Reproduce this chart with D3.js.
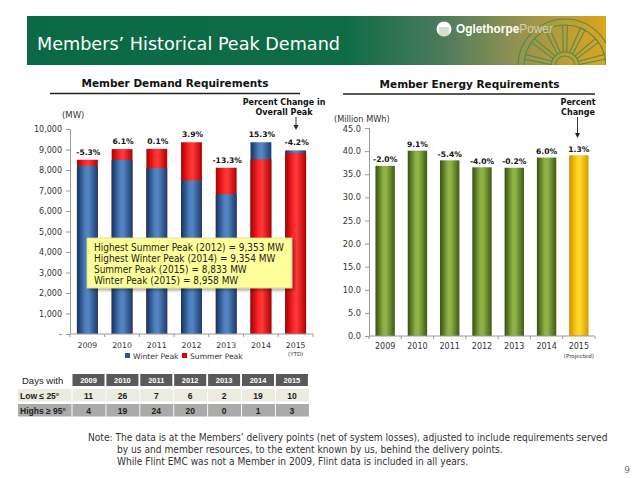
<!DOCTYPE html>
<html><head><meta charset="utf-8">
<script src="https://cdn.jsdelivr.net/npm/d3@7"></script>
<style>body{margin:0;background:#fff}svg{display:block}</style>
</head><body>
<script>
// ---------- DATA ----------
const years = ['2009','2010','2011','2012','2013','2014','2015'];
const winterPeak = [8210, 8500, 8090, 7490, 6820, 9354, 8958];
const summerPeak = [8500, 9020, 9030, 9353, 8110, 8520, 8833];
const peakChange = ['-5.3%','6.1%','0.1%','3.9%','-13.3%','15.3%','-4.2%'];
const demandTicks = [0,1000,2000,3000,4000,5000,6000,7000,8000,9000,10000];
const energy = [36.8, 40.1, 38.0, 36.5, 36.4, 38.6, 39.1];
const energyChange = ['-2.0%','9.1%','-5.4%','-4.0%','-0.2%','6.0%','1.3%'];
const energyTicks = [0,5,10,15,20,25,30,35,40,45];
const lowDays = [11,26,7,6,2,19,10];
const highDays = [4,19,24,20,0,1,3];
const rowLabels = ['Low ≤ 25°','Highs ≥ 95°'];
const annotation = ['Highest Summer Peak (2012) = 9,353 MW','Highest Winter Peak (2014) = 9,354 MW','Summer Peak (2015) = 8,833 MW','Winter Peak (2015) = 8,958 MW'];
const noteLines = ['Note: The data is at the Members’ delivery points (net of system losses), adjusted to include requirements served','by us and member resources, to the extent known by us, behind the delivery points.','While Flint EMC was not a Member in 2009, Flint data is included in all years.'];

// ---------- SETUP ----------
const W=637,H=478;
const svg=d3.select('body').append('svg').attr('width',W).attr('height',H);
const defs=svg.append('defs');
const F='DejaVu Sans, Verdana, sans-serif';
const FC='DejaVu Sans Condensed, DejaVu Sans, sans-serif';
function fit(sel,w){const n=sel.node();const l=n.getComputedTextLength();if(l>0){const fs=parseFloat(sel.attr('font-size'));sel.attr('font-size',fs*w/l);}return sel;}
function hgrad(id,stops){const g=defs.append('linearGradient').attr('id',id).attr('x1','0%').attr('x2','100%').attr('y1','0%').attr('y2','0%');stops.forEach(s=>g.append('stop').attr('offset',s[0]).attr('stop-color',s[1]));}
hgrad('gBlue',[['0%','#14335f'],['40%','#4d7fbf'],['55%','#5586c4'],['100%','#1a3c6e']]);
hgrad('gRed',[['0%','#a80000'],['40%','#ff2a2a'],['55%','#ff3a3a'],['100%','#b00000']]);
hgrad('gGreen',[['0%','#34500f'],['40%','#8cb043'],['55%','#90b448'],['100%','#3d5a14']]);
hgrad('gYellow',[['0%','#d08e00'],['40%','#ffd21a'],['55%','#ffd930'],['100%','#d49a00']]);
hgrad('gHead',[['0%','#0b6a45'],['55%','#0e6c47'],['72%','#4e7b5c'],['86%','#9a9450'],['100%','#dca51c']]);
const sh=defs.append('filter').attr('id','shadow').attr('x','-10%').attr('y','-10%').attr('width','130%').attr('height','140%');
sh.append('feDropShadow').attr('dx',2).attr('dy',2).attr('stdDeviation',1.5).attr('flood-color','#000').attr('flood-opacity',0.35);

// ---------- HEADER ----------
const hx0=27,hx1=606,hy0=16,hy1=65;
defs.append('clipPath').attr('id','hclip').append('rect').attr('x',hx0).attr('y',hy0).attr('width',hx1-hx0).attr('height',hy1-hy0);
svg.append('rect').attr('x',hx0).attr('y',hy0).attr('width',hx1-hx0).attr('height',hy1-hy0).attr('fill','url(#gHead)');
const wheel=svg.append('g').attr('clip-path','url(#hclip)').attr('fill','none').attr('stroke','#3c8a55').attr('stroke-width',1.1).attr('opacity',0.85);
const wc=[565,66];
[47,41,14,10].forEach(r=>wheel.append('circle').attr('cx',wc[0]).attr('cy',wc[1]).attr('r',r));
d3.range(0,7).forEach(i=>{const a=Math.PI*(1+ (i+0.5)/7);[-0.06,0.06].forEach(o=>{wheel.append('line').attr('x1',wc[0]+14*Math.cos(a+o*2)).attr('y1',wc[1]+14*Math.sin(a+o*2)).attr('x2',wc[0]+41*Math.cos(a+o)).attr('y2',wc[1]+41*Math.sin(a+o));});});
fit(svg.append('text').attr('x',37).attr('y',50).attr('fill','#fff').attr('font-family',F).attr('font-size',18).text('Members’ Historical Peak Demand'),303);
// logo
const lg=svg.append('g');
lg.append('circle').attr('cx',444).attr('cy',29).attr('r',7.5).attr('fill','#fff');
d3.range(0,5).forEach(i=>lg.append('line').attr('x1',440+i*2).attr('x2',440+i*2).attr('y1',27).attr('y2',37).attr('stroke','#7d8f6a').attr('stroke-width',0.6));
const lt=lg.append('text').attr('x',456).attr('y',33).attr('font-family','Liberation Sans, Arial, sans-serif').attr('font-size',11).attr('fill','#fff');
lt.append('tspan').attr('font-weight','bold').text('Oglethorpe');
lt.append('tspan').attr('fill','#e8e2c8').attr('fill-opacity',0.8).text('Power');
fit(lt,97);

// ---------- LEFT CHART ----------
const xL=d3.scaleBand().domain(years).range([70,313]).paddingInner(0.4).paddingOuter(0.2);
const yL=d3.scaleLinear().domain([0,10000]).range([334,129]);
fit(svg.append('text').attr('x',175).attr('y',87).attr('text-anchor','middle').attr('font-family',F).attr('font-weight','bold').attr('font-size',11).attr('fill','#111').text('Member Demand Requirements'),187);
svg.append('line').attr('x1',50).attr('x2',300).attr('y1',93.5).attr('y2',93.5).attr('stroke','#222').attr('stroke-width',1.5);
svg.append('text').attr('x',62).attr('y',118).attr('font-family',F).attr('font-size',8.5).attr('fill','#333').text('(MW)');
const pcl=svg.append('g').attr('font-family',F).attr('font-weight','bold').attr('font-size',8).attr('fill','#111').attr('text-anchor','middle');
pcl.append('text').attr('x',284).attr('y',105).text('Percent Change in');
pcl.append('text').attr('x',284).attr('y',114.5).text('Overall Peak');
function arrow(x,y0,y1){svg.append('line').attr('x1',x).attr('x2',x).attr('y1',y0).attr('y2',y1-3).attr('stroke','#333').attr('stroke-width',1);
 svg.append('path').attr('d',`M${x-2.5},${y1-5}L${x+2.5},${y1-5}L${x},${y1}Z`).attr('fill','#222');}
arrow(296,117,130);
// y axis
const yAxL=svg.append('g').attr('transform','translate(70,0)').call(d3.axisLeft(yL).tickValues(demandTicks).tickSize(4).tickFormat(d=>d===0?'-':d3.format(',')(d)));
yAxL.select('.domain').attr('stroke','#999');
yAxL.selectAll('.tick line').attr('stroke','#999');
yAxL.selectAll('text').attr('font-family',F).attr('font-size',8).attr('fill','#333').attr('dx',-1);
// bars (larger behind, smaller in front)
const lb=svg.append('g');
years.forEach((yr,i)=>{
  const w=winterPeak[i],s=summerPeak[i];
  const back = w>=s ? {v:w,f:'url(#gBlue)'} : {v:s,f:'url(#gRed)'};
  const front= w>=s ? {v:s,f:'url(#gRed)'} : {v:w,f:'url(#gBlue)'};
  [back,front].forEach(b=>lb.append('rect').attr('x',xL(yr)).attr('width',xL.bandwidth()).attr('y',yL(b.v)).attr('height',yL(0)-yL(b.v)).attr('fill',b.f));
  lb.append('text').attr('x',xL(yr)+xL.bandwidth()/2+1).attr('y',yL(Math.max(w,s))-5).attr('text-anchor','middle').attr('font-family',F).attr('font-weight','bold').attr('font-size',7.6).attr('fill','#111').text(peakChange[i]);
});
// x axis
const xAxL=svg.append('g').attr('transform','translate(0,334)');
xAxL.append('line').attr('x1',70).attr('x2',313).attr('stroke','#999');
years.forEach((yr,i)=>{const bx=xL(yr)-xL.step()*xL.paddingInner()/2;xAxL.append('line').attr('x1',bx).attr('x2',bx).attr('y1',0).attr('y2',3).attr('stroke','#999');
 xAxL.append('text').attr('x',xL(yr)+xL.bandwidth()/2).attr('y',14).attr('text-anchor','middle').attr('font-family',F).attr('font-size',7.8).attr('fill','#333').text(yr);});
xAxL.append('line').attr('x1',313).attr('x2',313).attr('y1',0).attr('y2',3).attr('stroke','#999');
xAxL.append('text').attr('x',xL('2015')+xL.bandwidth()/2).attr('y',22).attr('text-anchor','middle').attr('font-family',F).attr('font-size',5.5).attr('fill','#333').text('(YTD)');
// legend
const leg=svg.append('g').attr('font-family',F).attr('font-size',7.6).attr('fill','#333');
leg.append('rect').attr('x',125).attr('y',353).attr('width',5).attr('height',5).attr('fill','#2f5597');
leg.append('text').attr('x',133).attr('y',359).text('Winter Peak');
leg.append('rect').attr('x',182).attr('y',353).attr('width',5).attr('height',5).attr('fill','#e00000');
leg.append('text').attr('x',190).attr('y',359).text('Summer Peak');
// annotation box
svg.append('rect').attr('x',87).attr('y',238).attr('width',205).attr('height',50).attr('fill','#ffff99').attr('stroke','#d8d890').attr('stroke-width',0.8).attr('filter','url(#shadow)');
const ann0=fit(svg.append('text').attr('x',94).attr('y',251).attr('font-family',FC).attr('font-size',10).attr('fill','#222').text(annotation[0]),190);
const annFs=ann0.attr('font-size');
annotation.slice(1).forEach((t,i)=>svg.append('text').attr('x',94).attr('y',262+i*11).attr('font-family',FC).attr('font-size',annFs).attr('fill','#222').text(t));

// ---------- RIGHT CHART ----------
const xR=d3.scaleBand().domain(years).range([369,595]).paddingInner(0.4).paddingOuter(0.2);
const yR=d3.scaleLinear().domain([0,45]).range([336,128]);
fit(svg.append('text').attr('x',469.5).attr('y',87.5).attr('text-anchor','middle').attr('font-family',F).attr('font-weight','bold').attr('font-size',11).attr('fill','#111').text('Member Energy Requirements'),180);
svg.append('line').attr('x1',343).attr('x2',595).attr('y1',94).attr('y2',94).attr('stroke','#222').attr('stroke-width',1.5);
svg.append('text').attr('x',334).attr('y',122).attr('font-family',F).attr('font-size',8.2).attr('fill','#333').text('(Million MWh)');
const pcr=svg.append('g').attr('font-family',F).attr('font-weight','bold').attr('font-size',8).attr('fill','#111').attr('text-anchor','middle');
pcr.append('text').attr('x',578).attr('y',105).text('Percent');
pcr.append('text').attr('x',578).attr('y',114.5).text('Change');
arrow(577.5,117,138);
const yAxR=svg.append('g').attr('transform','translate(369,0)').call(d3.axisLeft(yR).tickValues(energyTicks).tickSize(4).tickFormat(d3.format('.1f')));
yAxR.select('.domain').attr('stroke','#999');
yAxR.selectAll('.tick line').attr('stroke','#999');
yAxR.selectAll('text').attr('font-family',F).attr('font-size',8.2).attr('fill','#333').attr('dx',-1);
yAxR.selectAll('.tick').filter(d=>d===45).select('text').attr('dy','0.45em');
const rb=svg.append('g');
years.forEach((yr,i)=>{
  rb.append('rect').attr('x',xR(yr)).attr('width',xR.bandwidth()).attr('y',yR(energy[i])).attr('height',yR(0)-yR(energy[i])).attr('fill',i===years.length-1?'url(#gYellow)':'url(#gGreen)');
  rb.append('text').attr('x',xR(yr)+xR.bandwidth()/2).attr('y',yR(energy[i])-3.5).attr('text-anchor','middle').attr('font-family',F).attr('font-weight','bold').attr('font-size',7.6).attr('fill','#111').text(energyChange[i]);
});
const xAxR=svg.append('g').attr('transform','translate(0,336)');
xAxR.append('line').attr('x1',369).attr('x2',595).attr('stroke','#999');
years.forEach((yr,i)=>{const bx=xR(yr)-xR.step()*xR.paddingInner()/2;xAxR.append('line').attr('x1',bx).attr('x2',bx).attr('y1',0).attr('y2',3).attr('stroke','#999');
 xAxR.append('text').attr('x',xR(yr)+xR.bandwidth()/2).attr('y',13).attr('text-anchor','middle').attr('font-family',F).attr('font-size',8).attr('fill','#333').text(yr);});
xAxR.append('line').attr('x1',595).attr('x2',595).attr('y1',0).attr('y2',3).attr('stroke','#999');
xAxR.append('text').attr('x',xR('2015')+xR.bandwidth()/2).attr('y',21.5).attr('text-anchor','middle').attr('font-family',F).attr('font-size',5.5).attr('fill','#333').text('(Projected)');

// ---------- TABLE ----------
const TF='Liberation Sans, Arial, sans-serif';
const tx0=72.5, step=33.9, cw=32;
const tb=svg.append('g');
tb.append('text').attr('x',22).attr('y',384).attr('font-family',TF).attr('font-size',9.5).attr('fill','#222').text('Days with');
years.forEach((yr,i)=>{
  tb.append('rect').attr('x',tx0+i*step).attr('y',374).attr('width',cw).attr('height',12).attr('fill','#595959');
  tb.append('text').attr('x',tx0+i*step+cw/2).attr('y',383).attr('text-anchor','middle').attr('font-family',TF).attr('font-weight','bold').attr('font-size',7.5).attr('fill','#fff').text(yr);
});
const rowsData=[lowDays,highDays], rowY=[389,404], rowFill=['#ecebdf','#aaaaaa'];
rowsData.forEach((row,r)=>{
  tb.append('rect').attr('x',18).attr('y',rowY[r]).attr('width',tx0-18-1).attr('height',12.5).attr('fill',rowFill[r]);
  tb.append('text').attr('x',20).attr('y',rowY[r]+9.5).attr('font-family',TF).attr('font-weight','bold').attr('font-size',8.5).attr('fill','#222').text(rowLabels[r]);
  row.forEach((v,i)=>{
    tb.append('rect').attr('x',tx0+i*step).attr('y',rowY[r]).attr('width',cw+1).attr('height',12.5).attr('fill',rowFill[r]);
    tb.append('text').attr('x',tx0+i*step+cw/2).attr('y',rowY[r]+9.5).attr('text-anchor','middle').attr('font-family',TF).attr('font-weight','bold').attr('font-size',8.5).attr('fill','#222').text(v);
  });
});

// ---------- NOTE ----------
const nx=[88,117,117];
const n0=fit(svg.append('text').attr('x',nx[0]).attr('y',441).attr('font-family',FC).attr('font-size',10).attr('fill','#333').text(noteLines[0]),520);
const nFs=n0.attr('font-size');
noteLines.slice(1).forEach((t,i)=>svg.append('text').attr('x',nx[i+1]).attr('y',453+i*12).attr('font-family',FC).attr('font-size',nFs).attr('fill','#333').text(t));
svg.append('text').attr('x',627).attr('y',473).attr('text-anchor','middle').attr('font-family',F).attr('font-size',9).attr('fill','#777').text('9');
</script>
</body></html>
